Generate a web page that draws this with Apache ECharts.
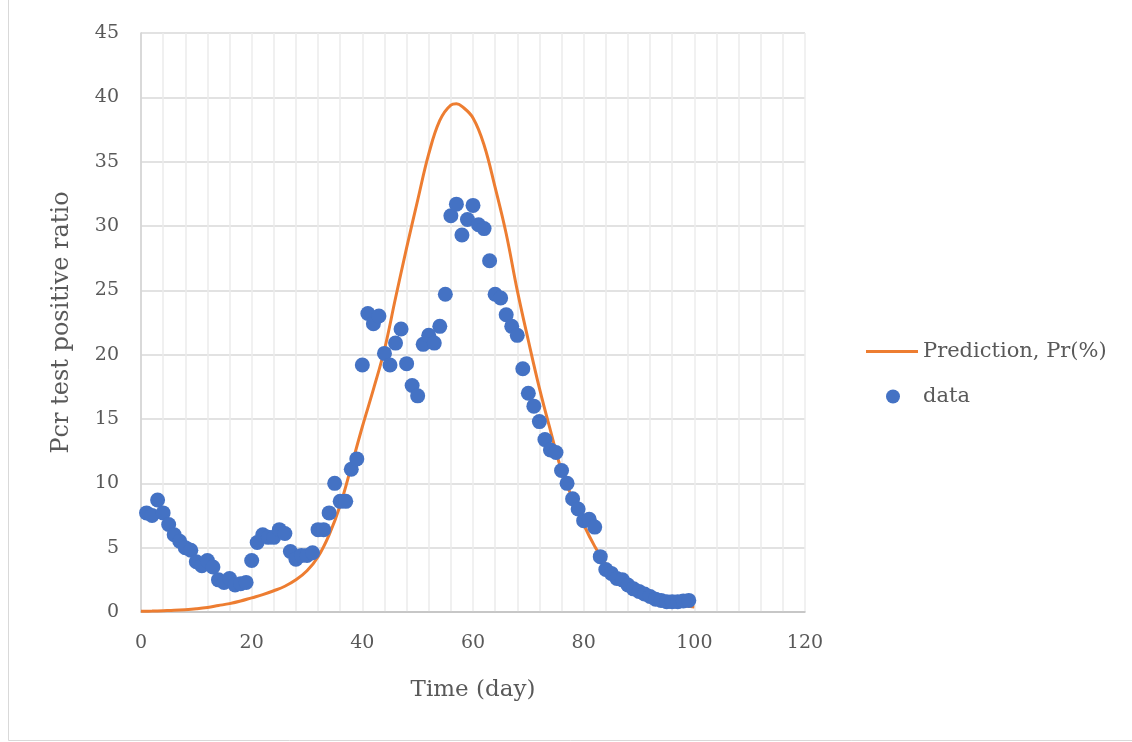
<!DOCTYPE html>
<html>
<head>
<meta charset="utf-8">
<script src="https://cdn.jsdelivr.net/npm/echarts@6/dist/echarts.min.js"></script>
<style>
html,body{margin:0;padding:0;background:#fff;}
#chart{width:1132px;height:742px;}
</style>
</head>
<body>
<div id="chart"></div>
<script>
const dataDays = [];
for (let d = 1; d <= 99; d++) dataDays.push(d);
const dataValues = [
  7.7, 7.5, 8.7, 7.7, 6.8, 6.0, 5.5, 5.0, 4.8, 3.9,
  3.6, 4.0, 3.5, 2.5, 2.3, 2.6, 2.1, 2.2, 2.3, 4.0,
  5.4, 6.0, 5.8, 5.8, 6.4, 6.1, 4.7, 4.1, 4.4, 4.4,
  4.6, 6.4, 6.4, 7.7, 10.0, 8.6, 8.6, 11.1, 11.9, 19.2,
  23.2, 22.4, 23.0, 20.1, 19.2, 20.9, 22.0, 19.3, 17.6, 16.8,
  20.8, 21.5, 20.9, 22.2, 24.7, 30.8, 31.7, 29.3, 30.5, 31.6,
  30.1, 29.8, 27.3, 24.7, 24.4, 23.1, 22.2, 21.5, 18.9, 17.0,
  16.0, 14.8, 13.4, 12.6, 12.4, 11.0, 10.0, 8.8, 8.0, 7.1,
  7.2, 6.6, 4.3, 3.3, 3.0, 2.6, 2.5, 2.1, 1.8, 1.6,
  1.4, 1.2, 1.0, 0.9, 0.8, 0.8, 0.8, 0.85, 0.9
];
const predDays = [0,2,4,6,8,10,12,14,16,18,20,22,24,26,28,30,32,34,36,38,40,42,44,46,48,50,52,54,56,57,58,60,62,64,66,68,70,72,74,76,78,80,82,84,86,88,90,92,94,96,98,100];
const predValues = [0.05,0.07,0.1,0.13,0.18,0.25,0.35,0.5,0.65,0.85,1.1,1.35,1.65,2.0,2.5,3.2,4.3,6.0,8.3,11.3,14.4,17.3,20.4,24.4,28.3,32.0,35.6,38.2,39.4,39.5,39.3,38.4,36.3,33.0,29.4,25.0,21.1,17.4,14.1,11.0,8.8,6.8,5.1,3.7,2.7,1.95,1.4,1.05,0.8,0.6,0.48,0.38];
const xTicks = [0,20,40,60,80,100,120];

const FONT = 'DejaVu Serif';
const TXT = '#595959';

const chart = echarts.init(document.getElementById('chart'));
chart.setOption({
  animation: false,
  backgroundColor: '#fff',
  graphic: [{
    type: 'rect', shape: {x: 8.5, y: -2, width: 1130, height: 742.5},
    style: {fill: 'none', stroke: '#d9d9d9', lineWidth: 1}, silent: true
  }],
  grid: {left: 141, right: 327, top: 33, bottom: 130, containLabel: false},
  xAxis: {
    type: 'value', min: xTicks[0], max: xTicks[xTicks.length-1], interval: 20,
    name: 'Time (day)', nameLocation: 'middle', nameGap: 67,
    nameTextStyle: {fontFamily: FONT, fontSize: 23, color: TXT},
    axisLine: {show: true, lineStyle: {color: '#bfbfbf', width: 1.5}},
    axisTick: {show: false},
    axisLabel: {fontFamily: FONT, fontSize: 19, color: TXT, margin: 22},
    splitLine: {show: true, lineStyle: {color: '#ececec', width: 1.5}},
    minorTick: {show: false, splitNumber: 5},
    minorSplitLine: {show: true, lineStyle: {color: '#ececec', width: 1.5}}
  },
  yAxis: {
    type: 'value', min: 0, max: 45, interval: 5,
    name: 'Pcr test positive ratio', nameLocation: 'middle', nameGap: 67,
    nameTextStyle: {fontFamily: FONT, fontSize: 24, color: TXT},
    axisLine: {show: true, lineStyle: {color: '#d0d0d0', width: 1.5}},
    axisTick: {show: false},
    axisLabel: {fontFamily: FONT, fontSize: 19, color: TXT, margin: 22},
    splitLine: {show: true, lineStyle: {color: '#d9d9d9', width: 1.5}}
  },
  legend: [{
    data: [{name: 'Prediction, Pr(%)', icon: 'rect', itemStyle: {color: '#ed7d31'}}],
    left: 866, top: 341, padding: 0, itemWidth: 52, itemHeight: 3, itemGap: 5,
    textStyle: {fontFamily: FONT, fontSize: 21, color: TXT}
  }, {
    data: [{name: 'data', icon: 'circle'}],
    left: 886, top: 386, padding: 0, itemWidth: 14, itemHeight: 14,
    textStyle: {fontFamily: FONT, fontSize: 21, color: TXT, padding: [0,0,0,18]}
  }],
  series: [{
    name: 'Prediction, Pr(%)', type: 'line', symbol: 'none', smooth: 0.4,
    data: predDays.map((d, i) => [d, predValues[i]]),
    lineStyle: {color: '#ed7d31', width: 3}, itemStyle: {color: '#ed7d31'},
    z: 2
  }, {
    name: 'data', type: 'scatter', symbol: 'circle', symbolSize: 15,
    data: dataDays.map((d, i) => [d, dataValues[i]]),
    itemStyle: {color: '#4472c4', opacity: 1},
    z: 3
  }]
});
</script>
</body>
</html>
